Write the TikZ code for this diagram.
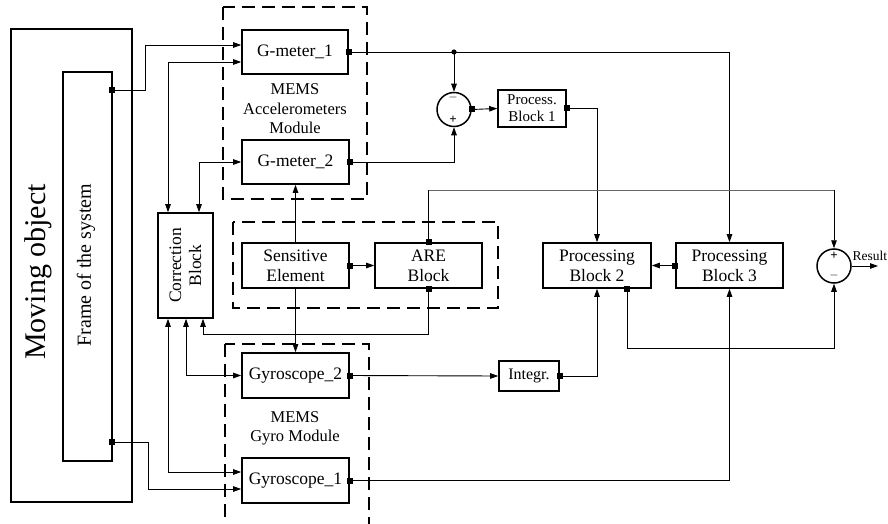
\documentclass[tikz,border=0pt]{standalone}
\usepackage{fontspec}
\setmainfont{Liberation Serif}
\usetikzlibrary{arrows.meta}
\begin{document}
\begin{tikzpicture}[x=1pt,y=-1pt,
  box/.style={draw, line width=1.6pt, inner sep=0pt, align=center, font=\fontsize{17.5}{20}\selectfont},
  btext/.style={inner sep=0pt, align=center, font=\fontsize{17.5}{20}\selectfont},
  conn/.style={line width=0.9pt},
  >={Triangle[length=8pt,width=5.5pt]},
  port/.style={fill=black, minimum size=6pt, inner sep=0pt},
  dbox/.style={line width=2pt, dash pattern=on 13pt off 7pt},
  sumc/.style={draw, circle, line width=1.5pt, minimum size=34pt, inner sep=0pt},
  sign/.style={inner sep=0pt, font=\fontsize{13}{13}\selectfont\bfseries},
  lbl/.style={align=center, inner sep=0pt, font=\fontsize{16.5}{19.5}\selectfont}]
\useasboundingbox (0,0) rectangle (888,524);

% dashed module frames
\draw[dbox] (223,7) rectangle (367,199);
\draw[dbox] (233,222) rectangle (498,308);
\draw[dbox] (225,344) rectangle (369,545);

% moving object and frame
\node[draw, line width=1.6pt, minimum width=121pt, minimum height=473pt] (mo) at (71.5,265.5) {};
\node[rotate=90, inner sep=0pt, font=\fontsize{30}{32}\selectfont] (mot) at (38.5,272) {Moving object};
\node[draw, line width=1.6pt, minimum width=49pt, minimum height=389pt] (fr) at (87.5,266.5) {};
\node[rotate=90, inner sep=0pt, font=\fontsize{20}{22}\selectfont] (frt) at (86,265) {Frame of the system};
\coordinate (fp1) at (112,90);
\coordinate (fp2) at (112,442);

% blocks
\node[box, minimum width=106pt, minimum height=44pt] (g1) at (295,52) {G-meter\_1};
\node[box, minimum width=107pt, minimum height=44pt] (g2) at (295.5,162) {G-meter\_2};
\node[box, minimum width=107pt, minimum height=45pt] (se) at (295.5,265.5) {Sensitive\\Element};
\node[box, minimum width=107pt, minimum height=45pt] (are) at (428.5,265.5) {ARE\\Block};
\node[box, minimum width=107pt, minimum height=45pt] (gy2) at (295.5,375.5) {Gyroscope\_2};
\node[box, minimum width=107pt, minimum height=45pt] (gy1) at (295.5,480.5) {Gyroscope\_1};
\node[box, minimum width=55pt, minimum height=105pt] (cb) at (185.5,265.5) {};
\node[btext, rotate=90] (cbt) at (cb.center) {Correction\\Block};
\node[box, minimum width=68pt, minimum height=37pt, font=\fontsize{15}{17}\selectfont] (pb1) at (532,108.5) {Process.\\Block 1};
\node[box, minimum width=108pt, minimum height=45pt] (pb2) at (597,265.5) {Processing\\Block 2};
\node[box, minimum width=107pt, minimum height=45pt] (pb3) at (729.5,265.5) {Processing\\Block 3};
\node[box, minimum width=60pt, minimum height=30pt, font=\fontsize{16}{18}\selectfont] (itg) at (529,376) {Integr.};
\node[sumc] (s1) at (454,109.5) {};
\node[sumc] (s2) at (834,266) {};
\node[sign] (s1m) at (453,98) {$-$};
\node[sign] (s1p) at (453,120) {+};
\node[sign] (s2p) at (834,256) {+};
\node[sign] (s2m) at (834,275) {$-$};

% labels
\node[lbl] (acclbl) at (295,109) {MEMS\\Accelerometers\\Module};
\node[lbl] (gyrlbl) at (295,428.5) {MEMS\\Gyro Module};

% connectors
\draw[conn,->] (fp1) -- (145,90) |- ([yshift=7pt]g1.west);
\draw[conn,->] (fp2) -- (148,442) |- ([yshift=-8.5pt]gy1.west);
\draw[conn,<->] ([xshift=-17.5pt]cb.north) |- ([yshift=-10pt]g1.west);
\draw[conn,<->] ([xshift=13.5pt]cb.north) |- (g2.west);
\draw[conn,<->] ([xshift=-17.5pt]cb.south) |- ([yshift=8.5pt]gy1.west);
\draw[conn,<->] ([xshift=0.5pt]cb.south) |- (gy2.west);
\coordinate (f1) at (428.5,334);
\draw[conn,->] (are.south) -- (f1) -| ([xshift=17.5pt]cb.south);

\path (s1.north |- g1.east) coordinate (j1);
\draw[conn,->] (g1.east) -| (pb3.north);
\draw[conn,->] (j1) -- (s1.north);
\fill (j1) circle (2.6pt);
\draw[conn,->] (g2.east) -| (s1.south);
\draw[conn,->] (s1.east) -- (pb1.west);
\draw[conn,->] (pb1.east) -| (pb2.north);

\draw[conn,->] (se.east) -- (are.west);
\draw[conn,->] (se.north) -- (g2.south);
\draw[conn,->] (se.south) -- (gy2.north);

\coordinate (c1) at (428.5,190);
\coordinate (c2) at (834,190);
\draw[conn] (are.north) -- (c1);
\draw[conn, black!60] (c1) -- (c2);
\draw[conn,->] (c2) -- (s2.north);

\draw[conn,->] (gy2.east) -- (itg.west);
\draw[conn,->] (itg.east) -| (pb2.south);
\draw[conn,->] (pb3.west) -- (pb2.east);
\coordinate (b2p) at ([xshift=30pt]pb2.south);
\coordinate (b2q) at (627,348);
\draw[conn,->] (b2p) -- (b2q) -| (s2.south);
\draw[conn,->] (gy1.east) -| (pb3.south);
\coordinate (rout) at (878,266);
\draw[conn,->] (s2.east) -- (rout);
\node[anchor=base west, inner sep=0pt, font=\fontsize{13.5}{15}\selectfont] (res) at (852.5,260) {Result};

% ports
\node[port] (p1) at (fp1) {};
\node[port] (p2) at (fp2) {};
\node[port] (p3) at (g1.east) {};
\node[port] (p4) at (g2.east) {};
\node[port] (p5) at (se.east) {};
\node[port] (p6) at (are.north) {};
\node[port] (p7) at (are.south) {};
\node[port] (p8) at (gy2.east) {};
\node[port] (p9) at (gy1.east) {};
\node[port] (p10) at (s1.east) {};
\node[port] (p11) at (pb1.east) {};
\node[port] (p12) at (itg.east) {};
\node[port] (p13) at (pb3.west) {};
\node[port] (p14) at (b2p) {};
\end{tikzpicture}
\end{document}
